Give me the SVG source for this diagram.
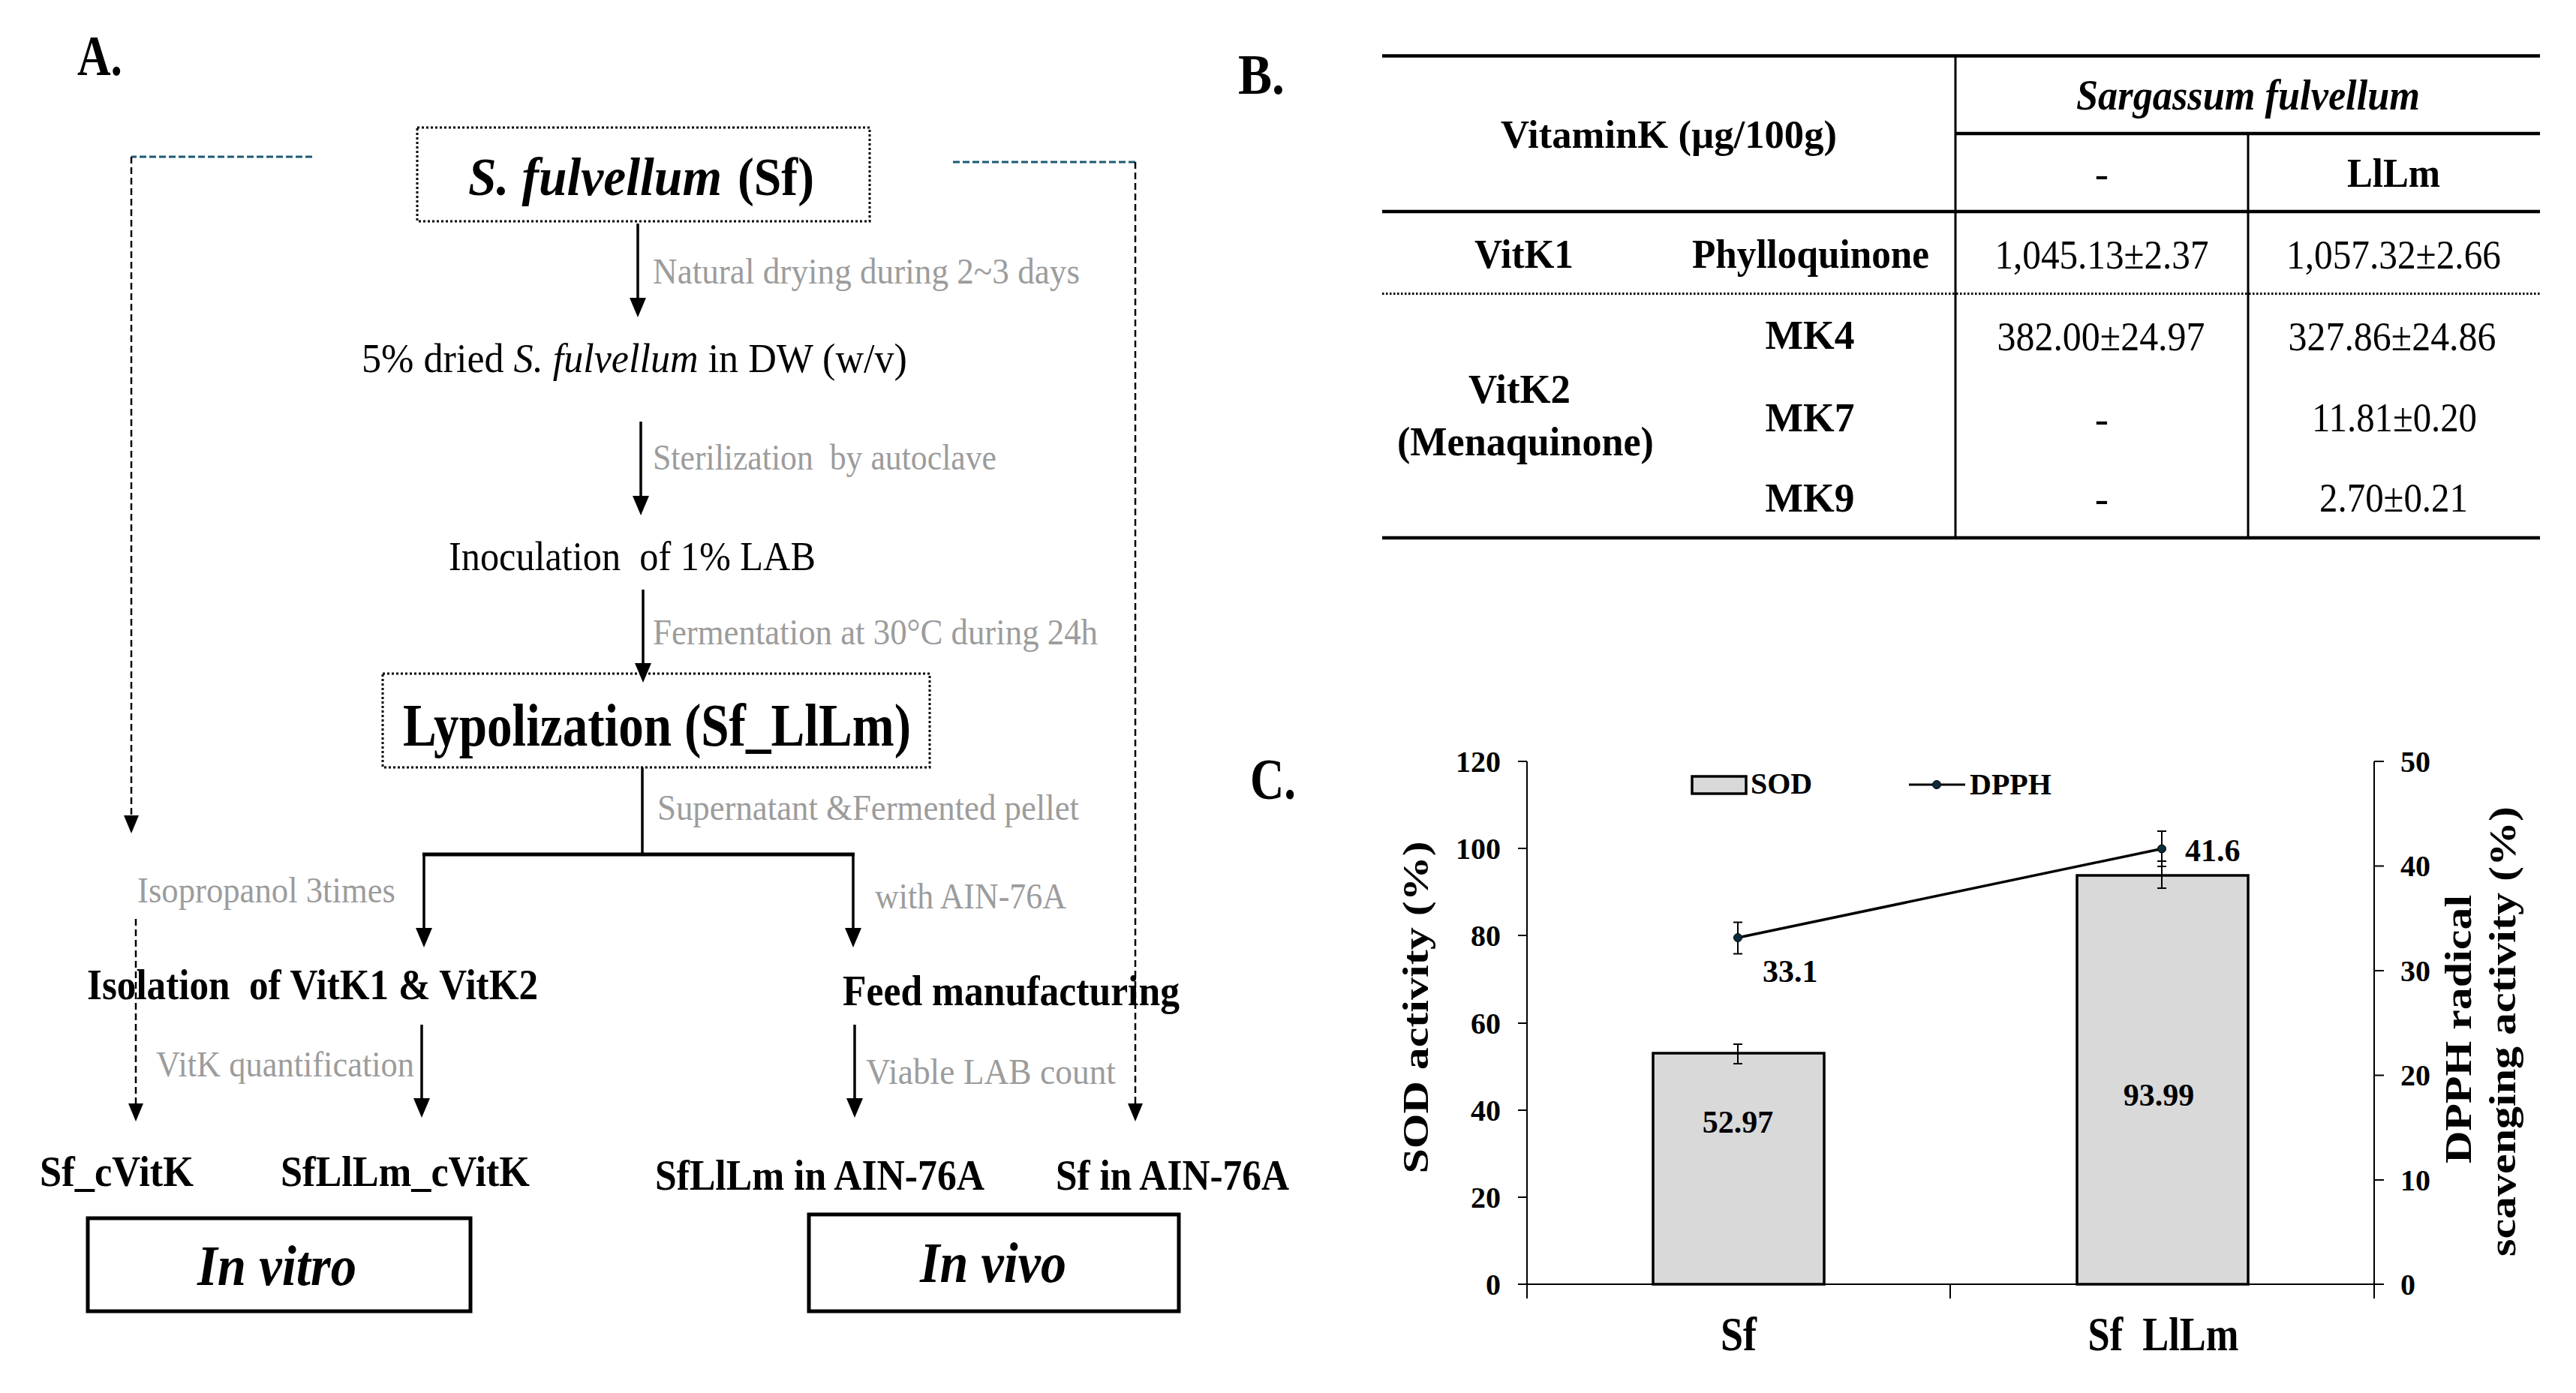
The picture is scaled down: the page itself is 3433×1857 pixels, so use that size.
<svg xmlns="http://www.w3.org/2000/svg" width="3433" height="1857" viewBox="0 0 3433 1857">
<style>
text { font-family: "Liberation Serif", "Times New Roman", serif; fill: #000; }
.b { font-weight: bold; }
.i { font-style: italic; }
.g { fill: #9c9c9c; font-size: 49px; }
.m { font-size: 54px; }
.lb { font-size: 56px; font-weight: bold; }
.tb { font-size: 55px; }
.ax { font-size: 40px; font-weight: bold; }
.ln { stroke: #000; stroke-width: 3.5; fill: none; }
.dash { stroke: #000; stroke-width: 2.5; fill: none; stroke-dasharray: 9 5; }
.teal { stroke: #1d5a72; stroke-width: 3; fill: none; stroke-dasharray: 9 4; }
.dot { stroke: #000; stroke-width: 3; fill: none; stroke-dasharray: 3 3; }
.box { stroke: #000; stroke-width: 5; fill: #fff; }
.rule { stroke: #000; stroke-width: 4.5; }
.vr { stroke: #000; stroke-width: 3; }
.bar { fill: #d9d9d9; stroke: #000; stroke-width: 3.5; }
.thin { stroke: #000; stroke-width: 2; fill: none; }
</style>
<defs>
<marker id="ah" viewBox="0 0 26 22" refX="16" refY="11" markerWidth="26" markerHeight="22" markerUnits="userSpaceOnUse" orient="auto">
<path d="M0,0 L26,11 L0,22 z" fill="#000"/>
</marker>
<marker id="ahs" viewBox="0 0 24 20" refX="14" refY="10" markerWidth="24" markerHeight="20" markerUnits="userSpaceOnUse" orient="auto">
<path d="M0,0 L24,10 L0,20 z" fill="#000"/>
</marker>
</defs>
<rect width="3433" height="1857" fill="#fff"/>

<!-- Panel labels -->
<text class="b" x="103" y="100" font-size="76" textLength="60" lengthAdjust="spacingAndGlyphs">A.</text>
<text class="b" x="1650" y="125" font-size="76" textLength="62" lengthAdjust="spacingAndGlyphs">B.</text>
<text class="b" x="1666" y="1065" font-size="78" textLength="61" lengthAdjust="spacingAndGlyphs">C.</text>

<!-- Panel A connectors -->
<g id="connectors">
<line class="ln" x1="850" y1="298" x2="850" y2="413" marker-end="url(#ah)"/>
<line class="ln" x1="854" y1="562" x2="854" y2="677" marker-end="url(#ah)"/>
<line class="ln" x1="857" y1="786" x2="857" y2="900" marker-end="url(#ah)"/>
<line class="ln" x1="856" y1="1023" x2="856" y2="1139"/>
<line stroke="#000" stroke-width="5" x1="563" y1="1139" x2="1139" y2="1139"/>
<line class="ln" x1="565" y1="1139" x2="565" y2="1253" marker-end="url(#ah)"/>
<line class="ln" x1="1137" y1="1139" x2="1137" y2="1253" marker-end="url(#ah)"/>
<line class="ln" x1="562" y1="1366" x2="562" y2="1480" marker-end="url(#ah)"/>
<line class="ln" x1="1139" y1="1366" x2="1139" y2="1480" marker-end="url(#ah)"/>
<line class="teal" x1="416" y1="209" x2="175" y2="209"/>
<line class="dash" x1="175" y1="209" x2="175" y2="1101" marker-end="url(#ahs)"/>
<line class="dash" x1="181" y1="1225" x2="181" y2="1485" marker-end="url(#ahs)"/>
<line class="teal" x1="1270" y1="216" x2="1513" y2="216"/>
<line class="dash" x1="1513" y1="216" x2="1513" y2="1485" marker-end="url(#ahs)"/>
</g>

<!-- Panel A nodes -->
<g id="node-sf">
<rect class="dot" x="556" y="170" width="603" height="125"/>
<text class="b i" x="624" y="260" font-size="71" textLength="338" lengthAdjust="spacingAndGlyphs">S. fulvellum</text>
<text class="b" x="983" y="260" font-size="71" textLength="102" lengthAdjust="spacingAndGlyphs">(Sf)</text>
</g>
<g id="label-drying"><text class="g" x="870" y="378" textLength="569" lengthAdjust="spacingAndGlyphs">Natural drying during 2~3 days</text></g>
<g id="node-dried"><text class="m" x="482" y="496" textLength="727" lengthAdjust="spacingAndGlyphs">5% dried <tspan class="i">S. fulvellum</tspan> in DW (w/v)</text></g>
<g id="label-steril"><text class="g" x="870" y="626" textLength="458" lengthAdjust="spacingAndGlyphs" xml:space="preserve">Sterilization  by autoclave</text></g>
<g id="node-inoc"><text class="m" x="598" y="760" textLength="489" lengthAdjust="spacingAndGlyphs" xml:space="preserve">Inoculation  of 1% LAB</text></g>
<g id="label-ferm"><text class="g" x="870" y="859" textLength="593" lengthAdjust="spacingAndGlyphs">Fermentation at 30°C during 24h</text></g>
<g id="node-lyo">
<rect class="dot" x="510" y="898" width="729" height="125"/>
<text class="b" x="537" y="994" font-size="80" textLength="677" lengthAdjust="spacingAndGlyphs">Lypolization (Sf_LlLm)</text>
</g>
<g id="label-super"><text class="g" x="876" y="1093" textLength="562" lengthAdjust="spacingAndGlyphs">Supernatant &amp;Fermented pellet</text></g>
<g id="label-iso"><text class="g" x="183" y="1203" textLength="344" lengthAdjust="spacingAndGlyphs">Isopropanol 3times</text></g>
<g id="label-ain"><text class="g" x="1166" y="1211" textLength="255" lengthAdjust="spacingAndGlyphs">with AIN-76A</text></g>
<g id="node-isolation"><text class="lb" x="116" y="1332" textLength="601" lengthAdjust="spacingAndGlyphs" xml:space="preserve">Isolation  of VitK1 &amp; VitK2</text></g>
<g id="node-feed"><text class="lb" x="1123" y="1340" textLength="449" lengthAdjust="spacingAndGlyphs">Feed manufacturing</text></g>
<g id="label-quant"><text class="g" x="208" y="1435" textLength="344" lengthAdjust="spacingAndGlyphs">VitK quantification</text></g>
<g id="label-viable"><text class="g" x="1154" y="1445" textLength="333" lengthAdjust="spacingAndGlyphs">Viable LAB count</text></g>
<g id="node-sfcvitk"><text class="lb" x="53" y="1581" textLength="205" lengthAdjust="spacingAndGlyphs">Sf_cVitK</text></g>
<g id="node-sfllcvitk"><text class="lb" x="374" y="1581" textLength="332" lengthAdjust="spacingAndGlyphs">SfLlLm_cVitK</text></g>
<g id="node-sfllain"><text class="lb" x="873" y="1586" textLength="439" lengthAdjust="spacingAndGlyphs">SfLlLm in AIN-76A</text></g>
<g id="node-sfain"><text class="lb" x="1407" y="1586" textLength="311" lengthAdjust="spacingAndGlyphs">Sf in AIN-76A</text></g>
<g id="node-invitro">
<rect class="box" x="117" y="1624" width="510" height="124"/>
<text class="b i" x="263" y="1713" font-size="77" textLength="212" lengthAdjust="spacingAndGlyphs">In vitro</text>
</g>
<g id="node-invivo">
<rect class="box" x="1078" y="1619" width="493" height="129"/>
<text class="b i" x="1226" y="1709" font-size="77" textLength="195" lengthAdjust="spacingAndGlyphs">In vivo</text>
</g>

<!-- Panel B table -->
<g id="table">
<line class="rule" x1="1842" y1="74.5" x2="3385" y2="74.5"/>
<line class="rule" x1="2606" y1="178" x2="3385" y2="178"/>
<line class="rule" x1="1842" y1="282" x2="3385" y2="282"/>
<line stroke="#000" stroke-width="3" stroke-dasharray="2.5 2.5" x1="1842" y1="391.5" x2="3385" y2="391.5"/>
<line class="rule" x1="1842" y1="717" x2="3385" y2="717"/>
<line class="vr" x1="2606" y1="74.5" x2="2606" y2="717"/>
<line class="vr" x1="2996" y1="178" x2="2996" y2="717"/>
<g text-anchor="middle">
<text class="b" x="2224" y="197" font-size="53" textLength="448" lengthAdjust="spacingAndGlyphs">VitaminK (µg/100g)</text>
<text class="b i" x="2996" y="146" font-size="57" textLength="458" lengthAdjust="spacingAndGlyphs">Sargassum fulvellum</text>
<text class="tb" x="2801" y="250">-</text>
<text class="b" x="3190" y="249" font-size="54" textLength="124" lengthAdjust="spacingAndGlyphs">LlLm</text>
<text class="b tb" x="2031" y="357" textLength="132" lengthAdjust="spacingAndGlyphs">VitK1</text>
<text class="b tb" x="2413" y="357" textLength="316" lengthAdjust="spacingAndGlyphs">Phylloquinone</text>
<text class="tb" x="2801" y="358" textLength="285" lengthAdjust="spacingAndGlyphs">1,045.13±2.37</text>
<text class="tb" x="3190" y="358" textLength="286" lengthAdjust="spacingAndGlyphs">1,057.32±2.66</text>
<text class="b tb" x="2412" y="465" textLength="119" lengthAdjust="spacingAndGlyphs">MK4</text>
<text class="tb" x="2800" y="467" textLength="277" lengthAdjust="spacingAndGlyphs">382.00±24.97</text>
<text class="tb" x="3188" y="467" textLength="277" lengthAdjust="spacingAndGlyphs">327.86±24.86</text>
<text class="b tb" x="2025" y="537" textLength="136" lengthAdjust="spacingAndGlyphs">VitK2</text>
<text class="b tb" x="2033" y="607" textLength="342" lengthAdjust="spacingAndGlyphs">(Menaquinone)</text>
<text class="b tb" x="2412" y="575" textLength="119" lengthAdjust="spacingAndGlyphs">MK7</text>
<text class="tb" x="2801" y="577">-</text>
<text class="tb" x="3191" y="575" textLength="220" lengthAdjust="spacingAndGlyphs">11.81±0.20</text>
<text class="b tb" x="2412" y="682" textLength="119" lengthAdjust="spacingAndGlyphs">MK9</text>
<text class="tb" x="2801" y="683">-</text>
<text class="tb" x="3190" y="682" textLength="198" lengthAdjust="spacingAndGlyphs">2.70±0.21</text>
</g>
</g>

<!-- Panel C chart -->
<g id="chart">
<g id="axes">
<line class="thin" x1="2035" y1="1015" x2="2035" y2="1731"/>
<line class="thin" x1="3164" y1="1015" x2="3164" y2="1731"/>
<line class="thin" x1="2035" y1="1712" x2="3164" y2="1712"/>
<line class="thin" x1="2599" y1="1712" x2="2599" y2="1731"/>
<path class="thin" d="M2023,1015 H2035 M2023,1131 H2035 M2023,1247 H2035 M2023,1364 H2035 M2023,1480 H2035 M2023,1596 H2035 M2023,1712 H2035"/>
<path class="thin" d="M3164,1015 H3177 M3164,1154.5 H3177 M3164,1294 H3177 M3164,1433.5 H3177 M3164,1573 H3177 M3164,1712 H3177"/>
<g text-anchor="end">
<text class="ax" x="2000" y="1029">120</text>
<text class="ax" x="2000" y="1145">100</text>
<text class="ax" x="2000" y="1261">80</text>
<text class="ax" x="2000" y="1378">60</text>
<text class="ax" x="2000" y="1494">40</text>
<text class="ax" x="2000" y="1610">20</text>
<text class="ax" x="2000" y="1726">0</text>
</g>
<text class="ax" x="3199" y="1029">50</text>
<text class="ax" x="3199" y="1168">40</text>
<text class="ax" x="3199" y="1308">30</text>
<text class="ax" x="3199" y="1447">20</text>
<text class="ax" x="3199" y="1587">10</text>
<text class="ax" x="3199" y="1726">0</text>
<text class="b" font-size="60" text-anchor="middle" transform="translate(1903,1343) rotate(-90) scale(1,0.82)">SOD activity (%)</text>
<text class="b" font-size="60" text-anchor="middle" transform="translate(3293,1372) rotate(-90) scale(1,0.85)">DPPH radical</text>
<text class="b" font-size="60" text-anchor="middle" transform="translate(3352,1375) rotate(-90) scale(1,0.85)">scavenging activity (%)</text>
<text class="b" x="2317" y="1800" font-size="64" text-anchor="middle" textLength="48" lengthAdjust="spacingAndGlyphs">Sf</text>
<text class="b" x="2883" y="1800" font-size="64" text-anchor="middle" textLength="201" lengthAdjust="spacingAndGlyphs" xml:space="preserve">Sf  LlLm</text>
</g>
<g id="bar-sf">
<rect class="bar" x="2203" y="1404" width="228" height="308"/>
<path class="thin" d="M2316,1392 V1418 M2310,1392 H2322 M2310,1418 H2322"/>
<text class="b" x="2316" y="1510" font-size="42" text-anchor="middle">52.97</text>
</g>
<g id="bar-sfll">
<rect class="bar" x="2768" y="1167" width="228" height="545"/>
<path class="thin" d="M2881,1148 V1184 M2875,1148 H2887 M2875,1184 H2887"/>
<text class="b" x="2877" y="1474" font-size="42" text-anchor="middle">93.99</text>
</g>
<g id="dpph-line">
<line stroke="#000" stroke-width="3.5" x1="2316" y1="1250" x2="2881" y2="1131.5"/>
<path class="thin" d="M2316,1229.5 V1271.5 M2310,1229.5 H2322 M2310,1271.5 H2322"/>
<path class="thin" d="M2881,1108 V1155 M2875,1108 H2887 M2875,1155 H2887"/>
<circle cx="2316" cy="1250" r="5.5" fill="#0d2b3b" stroke="#000" stroke-width="1"/>
<circle cx="2881" cy="1131.5" r="5.5" fill="#0d2b3b" stroke="#000" stroke-width="1"/>
<text class="b" x="2349" y="1309" font-size="42">33.1</text>
<text class="b" x="2912" y="1148" font-size="42">41.6</text>
</g>
<g id="legend">
<rect x="2255" y="1035" width="72" height="23" fill="#d9d9d9" stroke="#000" stroke-width="3.5"/>
<text class="ax" x="2333" y="1058">SOD</text>
<line stroke="#000" stroke-width="3" x1="2544" y1="1046" x2="2619" y2="1046"/>
<circle cx="2581" cy="1046" r="5.5" fill="#0d2b3b" stroke="#000" stroke-width="1"/>
<text class="ax" x="2625" y="1059">DPPH</text>
</g>
</g>
</svg>
